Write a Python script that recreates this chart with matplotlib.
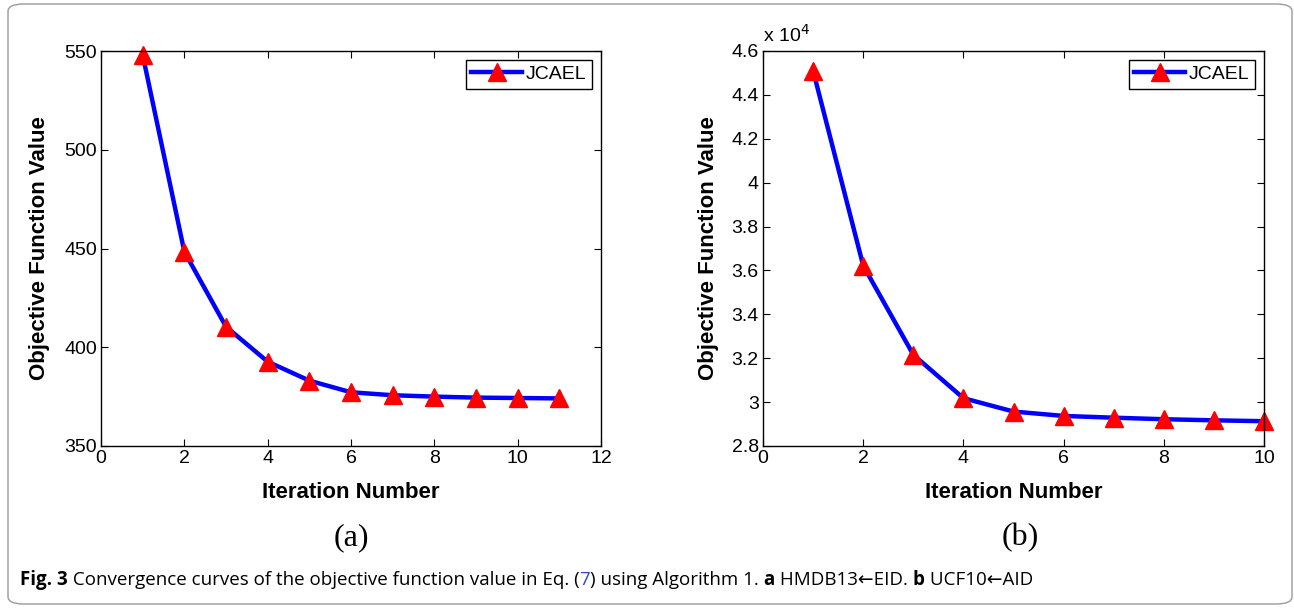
import matplotlib
matplotlib.use("Agg")
import matplotlib.pyplot as plt
from matplotlib.patches import FancyBboxPatch
from matplotlib.ticker import FuncFormatter

# data
iters_a = [1, 2, 3, 4, 5, 6, 7, 8, 9, 10, 11]
obj_a = [548.0, 448.4, 410.4, 392.7, 383.1, 377.2, 375.7, 375.0, 374.5, 374.3, 374.1]

iters_b = [1, 2, 3, 4, 5, 6, 7, 8, 9, 10]
obj_b = [45100, 36220, 32160, 30180, 29570, 29370, 29290, 29220, 29170, 29130]

xticks_a = [0, 2, 4, 6, 8, 10, 12]
yticks_a = [350, 400, 450, 500, 550]
xticks_b = [0, 2, 4, 6, 8, 10]
yticks_b = [28000, 30000, 32000, 34000, 36000, 38000, 40000, 42000, 44000, 46000]

series_name = "JCAEL"
panel_tags = ["(a)", "(b)"]

W, H = 1294, 608
fig = plt.figure(figsize=(W / 100, H / 100), dpi=100)

plt.rcParams['font.family'] = ['Liberation Sans', 'DejaVu Sans']

def style_axes(ax, xticks, yticks):
    ax.set_xticks(xticks)
    ax.set_yticks(yticks)
    ax.set_xlim(xticks[0], xticks[-1])
    ax.set_ylim(yticks[0], yticks[-1])
    ax.tick_params(direction='in', top=True, right=True, length=5, width=0.8,
                   labelsize=14, pad=3)
    for s in ax.spines.values():
        s.set_linewidth(1.0)
    ax.set_xlabel("Iteration Number", fontsize=16, fontweight='bold', labelpad=11)
    ax.set_ylabel("Objective Function Value", fontsize=16, fontweight='bold')
    leg = ax.legend(loc='upper right', fontsize=14, fancybox=False, framealpha=1,
                    edgecolor='black', handlelength=2.6, borderpad=0.3,
                    handletextpad=0.2, borderaxespad=0.45)
    leg.get_frame().set_linewidth(1.0)

ax1 = fig.add_axes([101 / W, 1 - 446 / H, 500 / W, 395 / H])
ax1.plot(iters_a, obj_a, color='#0000ff', lw=3.2, marker='^', ms=13,
         mfc='#ff0000', mec='#ff0000', label=series_name, clip_on=False)
style_axes(ax1, xticks_a, yticks_a)

ax2 = fig.add_axes([763 / W, 1 - 446 / H, 501 / W, 395 / H])
ax2.plot(iters_b, obj_b, color='#0000ff', lw=3.2, marker='^', ms=13,
         mfc='#ff0000', mec='#ff0000', label=series_name, clip_on=False)
style_axes(ax2, xticks_b, yticks_b)
ax2.yaxis.set_major_formatter(FuncFormatter(lambda v, p: f"{v / 1e4:g}"))
ax2.text(0.0, 1.012, r"x 10$^4$", transform=ax2.transAxes, fontsize=14,
         ha='left', va='bottom')

ax1.yaxis.set_label_coords(-0.101, 0.5)
ax2.yaxis.set_label_coords(-0.088, 0.5)

# panel tags below each axes
fig.text(351 / W, 1 - 538 / H, panel_tags[0], fontsize=23, family='Liberation Serif',
         ha='center', va='center')
fig.text(1020 / W, 1 - 538 / H, panel_tags[1], fontsize=23, family='Liberation Serif',
         ha='center', va='center')

# rounded frame around the figure
frame = FancyBboxPatch((8 / W, 4 / H), (1292 - 8) / W, (H - 8) / H,
                       boxstyle="round,pad=0,rounding_size=0.012",
                       transform=fig.transFigure, fill=False,
                       edgecolor='#9a9a9a', lw=1.0)
fig.patches.append(frame)

# caption built piece by piece
cap_fam = ['Open Sans', 'DejaVu Sans']
pieces = [
    ("Fig. 3", 'bold', 'black'),
    (" Convergence curves of the objective function value in Eq. (", 'normal', 'black'),
    ("7", 'normal', '#3344cc'),
    (") using Algorithm 1. ", 'normal', 'black'),
    ("a", 'bold', 'black'),
    (" HMDB13\u2190EID. ", 'normal', 'black'),
    ("b", 'bold', 'black'),
    (" UCF10\u2190AID", 'normal', 'black'),
]
renderer = fig.canvas.get_renderer()
x = 20
for txt, wt, col in pieces:
    t = fig.text(x / W, 1 - 580 / H, txt, fontsize=13.5, fontweight=wt, color=col,
                 family=cap_fam, ha='left', va='center')
    bb = t.get_window_extent(renderer=renderer)
    x += bb.width

fig.savefig("out.png", dpi=100)
